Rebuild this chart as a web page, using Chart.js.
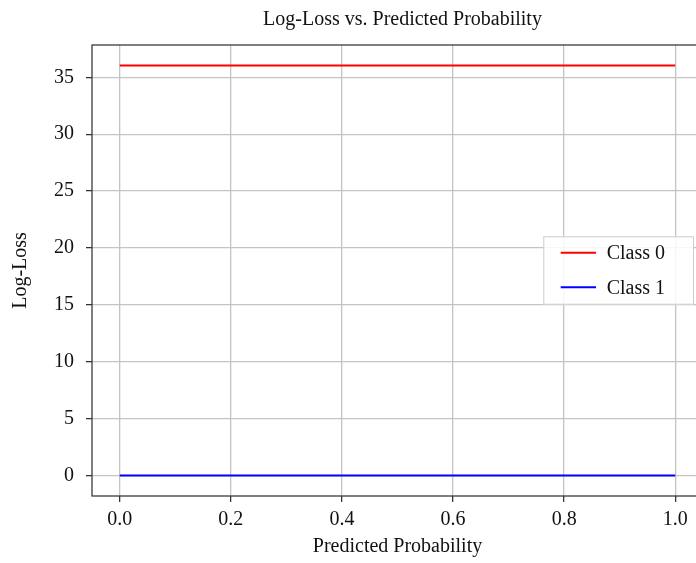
<!DOCTYPE html>
<html>
<head>
<meta charset="utf-8">
<script src="https://cdn.jsdelivr.net/npm/chart.js@4.4.1/dist/chart.umd.min.js"></script>
<style>
  html, body { margin: 0; padding: 0; background: #fff; overflow: hidden; }
  #wrap { width: 696px; height: 563px; overflow: hidden; position: relative; }
</style>
</head>
<body>
<div id="wrap"><canvas id="chart" width="710" height="563"></canvas></div>
<script>
// data
const chartTitle = 'Log-Loss vs. Predicted Probability';
const xLabel = 'Predicted Probability';
const yLabel = 'Log-Loss';
const seriesNames = ['Class 0', 'Class 1'];
const seriesColors = ['#ff0000', '#0000ff'];
const probs = [0.0, 0.1, 0.2, 0.3, 0.4, 0.5, 0.6, 0.7, 0.8, 0.9, 1.0];
const class0Loss = [36.04, 36.04, 36.04, 36.04, 36.04, 36.04, 36.04, 36.04, 36.04, 36.04, 36.04];
const class1Loss = [0, 0, 0, 0, 0, 0, 0, 0, 0, 0, 0];
const xTicks = [0.0, 0.2, 0.4, 0.6, 0.8, 1.0];
const yTicks = [0, 5, 10, 15, 20, 25, 30, 35];

const FONT = "'Liberation Serif', 'Times New Roman', serif";
const FSIZE = 20;

// title, legend and frame drawn by hand
const extrasPlugin = {
  id: 'extras',
  afterDatasetsDraw(chart) {
    const { ctx, chartArea: a } = chart;
    ctx.save();
    // spines
    ctx.strokeStyle = '#333333';
    ctx.lineWidth = 1.25;
    ctx.strokeRect(a.left, a.top, a.right - a.left, a.bottom - a.top);

    // legend (center right)
    const boxW = 150.7, boxH = 68.4;
    const boxRight = a.right - 9;
    const boxLeft = boxRight - boxW;
    const boxTop = (a.top + a.bottom) / 2 - boxH / 2;
    ctx.fillStyle = 'rgba(255,255,255,0.85)';
    ctx.fillRect(boxLeft, boxTop, boxW, boxH);
    ctx.strokeStyle = '#cccccc';
    ctx.lineWidth = 1;
    ctx.strokeRect(boxLeft + 0.5, boxTop + 0.5, boxW - 1, boxH - 1);
    const rows = [16.4, 51];
    ctx.font = FSIZE + 'px ' + FONT;
    ctx.textBaseline = 'middle';
    ctx.textAlign = 'left';
    chart.data.datasets.forEach((ds, i) => {
      const y = boxTop + rows[i];
      ctx.strokeStyle = ds.borderColor;
      ctx.lineWidth = 2;
      ctx.beginPath();
      ctx.moveTo(boxLeft + 17.4, y);
      ctx.lineTo(boxLeft + 52.7, y);
      ctx.stroke();
      ctx.fillStyle = '#111';
      ctx.fillText(ds.label, boxLeft + 63.4, y + 1);
    });
    ctx.restore();
  },
  afterDraw(chart) {
    const { ctx, chartArea: a } = chart;
    ctx.save();
    ctx.font = FSIZE + 'px ' + FONT;
    ctx.fillStyle = '#111';
    ctx.textAlign = 'center';
    ctx.textBaseline = 'alphabetic';
    ctx.fillText(chartTitle, (a.left + a.right) / 2 + 5, 25);
    ctx.restore();
  }
};

const ctx = document.getElementById('chart');
new Chart(ctx, {
  type: 'line',
  data: {
    datasets: [
      {
        label: seriesNames[0],
        data: probs.map((p, i) => ({ x: p, y: class0Loss[i] })),
        borderColor: seriesColors[0],
        borderWidth: 2,
        pointRadius: 0,
        fill: false,
        tension: 0
      },
      {
        label: seriesNames[1],
        data: probs.map((p, i) => ({ x: p, y: class1Loss[i] })),
        borderColor: seriesColors[1],
        borderWidth: 2,
        pointRadius: 0,
        fill: false,
        tension: 0
      }
    ]
  },
  options: {
    responsive: false,
    animation: false,
    events: [],
    layout: { padding: { top: 45, right: 7, left: 0, bottom: 0 } },
    plugins: {
      legend: { display: false },
      title: { display: false },
      tooltip: { enabled: false }
    },
    scales: {
      x: {
        type: 'linear',
        min: -0.05,
        max: 1.05,
        afterBuildTicks: scale => { scale.ticks = xTicks.map(v => ({ value: v })); },
        afterFit: scale => { scale.height = 67; },
        border: { display: false },
        grid: { color: '#c4c4c4', lineWidth: 1.3, tickColor: '#333333', tickLength: 6, tickWidth: 1.25 },
        ticks: {
          padding: 6,
          maxRotation: 0,
          color: '#111',
          font: { family: FONT, size: FSIZE },
          callback: v => v.toFixed(1)
        },
        title: {
          display: true,
          text: xLabel,
          color: '#111',
          font: { family: FONT, size: FSIZE },
          padding: { top: 0, bottom: 4 }
        }
      },
      y: {
        type: 'linear',
        min: -1.8,
        max: 37.84,
        afterBuildTicks: scale => { scale.ticks = yTicks.map(v => ({ value: v })); },
        afterFit: scale => { scale.width = 92; },
        border: { display: false },
        grid: { color: '#c4c4c4', lineWidth: 1.3, tickColor: '#333333', tickLength: 6, tickWidth: 1.25 },
        ticks: {
          padding: 12,
          color: '#111',
          font: { family: FONT, size: FSIZE },
          callback: v => String(v)
        },
        title: {
          display: true,
          text: yLabel,
          color: '#111',
          font: { family: FONT, size: FSIZE },
          padding: { top: 9, bottom: 0 }
        }
      }
    }
  },
  plugins: [extrasPlugin]
});
</script>
</body>
</html>
